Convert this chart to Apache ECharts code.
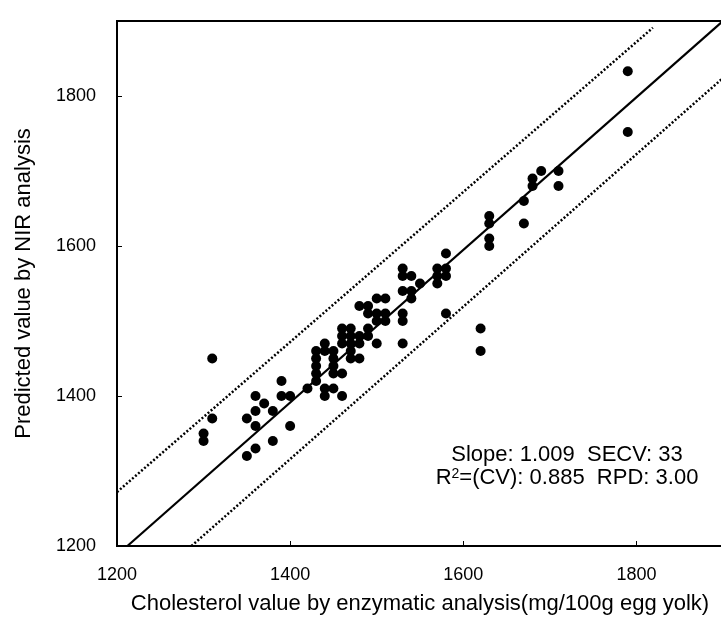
<!DOCTYPE html>
<html>
<head>
<meta charset="utf-8">
<script src="https://cdn.jsdelivr.net/npm/echarts@6/dist/echarts.min.js"></script>
<style>
html,body{margin:0;padding:0;background:#fff;}
#chart{width:721px;height:620px;}
</style>
</head>
<body>
<div id="chart"></div>
<script>
// Enzymatic (x) vs NIR predicted (y) cholesterol values
const enzymatic = [
  1300,1300,1310,1310,1350,1350,1360,1360,1360,1360,1370,1380,1380,1390,1390,1400,1400,1420,
  1430,1430,1430,1430,1430,1440,1440,1440,1440,1450,1450,1450,1450,1450,1460,1460,1470,1480,
  1460,1470,1460,1470,1460,1470,1480,1490,1490,1480,1500,
  1480,1490,1500,1510,1500,1510,1490,1500,1510,1470,
  1530,1540,1530,1530,1540,1550,1540,1530,1530,1530,
  1570,1580,1570,1580,1570,1580,1580,
  1620,1620,1630,1630,1630,1630,1670,1670,
  1680,1680,1690,1710,1710,1790,1790
];
const predicted = [
  1340,1350,1370,1450,1370,1320,1330,1360,1380,1400,1390,1380,1340,1420,1400,1400,1360,1410,
  1420,1430,1440,1450,1460,1470,1460,1410,1400,1460,1450,1440,1430,1410,1430,1400,1450,1450,
  1490,1490,1480,1480,1470,1470,1480,1490,1480,1470,1470,
  1520,1520,1530,1530,1510,1510,1510,1500,1500,1460,
  1570,1560,1560,1540,1540,1550,1530,1510,1500,1470,
  1570,1570,1560,1560,1550,1590,1510,
  1490,1460,1640,1630,1610,1600,1660,1630,
  1690,1680,1700,1700,1680,1833,1752
];
const fitLine = [[1212,1200],[1900,1900]];
const upperLine = [[1200,1272],[1819,1891]];
const lowerLine = [[1286,1200],[1900,1824]];
const xTicks = [1200,1400,1600,1800];
const yTicks = [1200,1400,1600,1800];
const annotation = ['Slope: 1.009  SECV: 33', 'R{s|2}=(CV): 0.885  RPD: 3.00'];

const points = enzymatic.map((v,i)=>[v,predicted[i]]);
const FONT = '"Liberation Sans", Arial, sans-serif';

const chart = echarts.init(document.getElementById('chart'), null, {renderer:'canvas'});
chart.setOption({
  animation:false,
  backgroundColor:'#fff',
  grid:{left:117, top:21, right:-2, bottom:74, show:true, borderColor:'#000', borderWidth:2,
        backgroundColor:'transparent', containLabel:false, outerBoundsMode:'none'},
  xAxis:{
    type:'value', min:1200, max:1900, interval:200,
    name:'Cholesterol value by enzymatic analysis(mg/100g egg yolk)',
    nameLocation:'middle', nameGap:47,
    nameTextStyle:{color:'#000', fontSize:22, fontFamily:FONT},
    axisLine:{show:true, lineStyle:{color:'#000', width:2}},
    axisTick:{show:true, inside:true, length:5, lineStyle:{color:'#000', width:1}},
    axisLabel:{color:'#000', fontSize:18, fontFamily:FONT, margin:20,
      formatter:v=> xTicks.includes(v) ? String(v) : ''},
    splitLine:{show:false}
  },
  yAxis:{
    type:'value', min:1200, max:1900, interval:200,
    name:'Predicted value by NIR analysis',
    nameLocation:'middle', nameGap:82,
    nameTextStyle:{color:'#000', fontSize:22, fontFamily:FONT},
    axisLine:{show:true, lineStyle:{color:'#000', width:2}},
    axisTick:{show:true, inside:true, length:5, lineStyle:{color:'#000', width:1}},
    axisLabel:{color:'#000', fontSize:18, fontFamily:FONT, margin:21,
      formatter:v=> yTicks.includes(v) ? String(v) : ''},
    splitLine:{show:false}
  },
  series:[
    {type:'line', data:fitLine, symbol:'none', lineStyle:{color:'#000', width:2.2}, z:2},
    {type:'line', data:upperLine, symbol:'none', lineStyle:{color:'#000', width:2.5, type:[2,2]}, z:2},
    {type:'line', data:lowerLine, symbol:'none', lineStyle:{color:'#000', width:2.5, type:[2,2]}, z:2},
    {type:'scatter', data:points, symbol:'circle', symbolSize:10, itemStyle:{color:'#000', opacity:1}, z:3}
  ],
  graphic:[
    {type:'text', x:567, y:444, style:{text:annotation[0], fill:'#000', font:'22px '+FONT, textAlign:'center'}},
    {type:'text', x:567, y:467, style:{text:annotation[1], fill:'#000', font:'22px '+FONT, textAlign:'center',
      rich:{s:{fontSize:14, verticalAlign:'top', padding:[0,0,8,0], fontFamily:FONT, fill:'#000'}}}}
  ]
});
</script>
</body>
</html>
